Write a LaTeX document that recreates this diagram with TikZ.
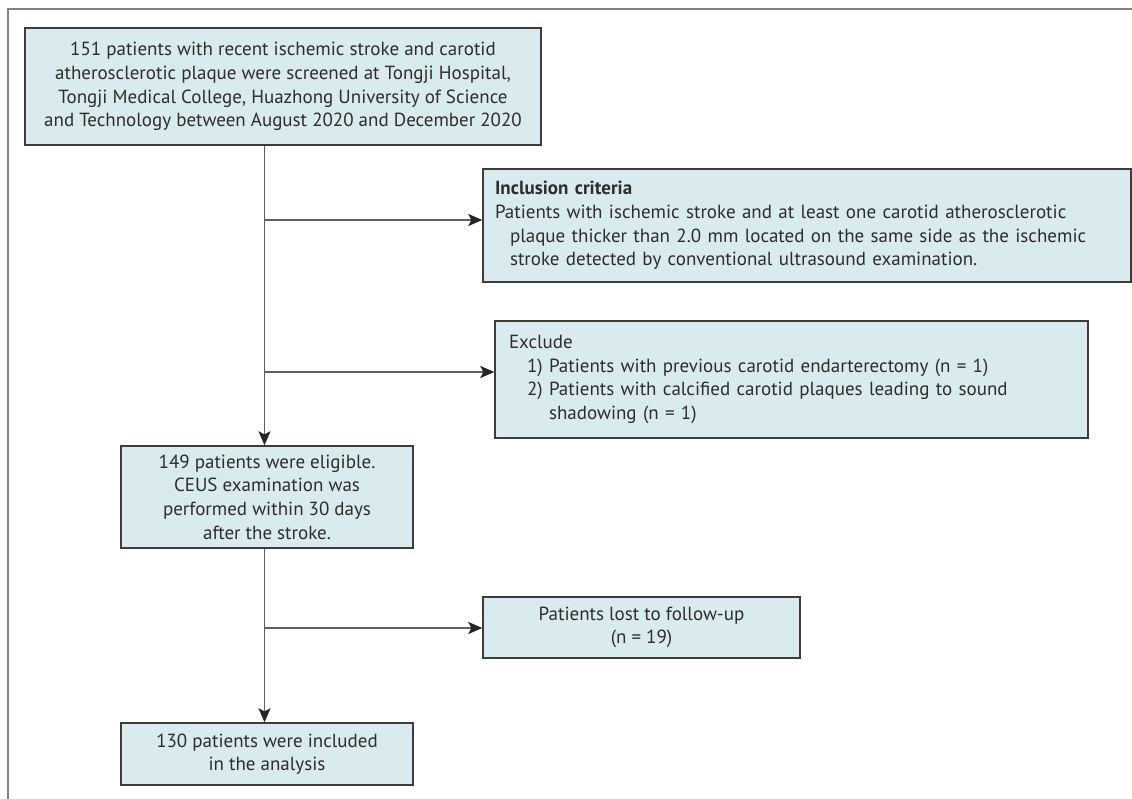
\documentclass[tikz,border=0pt]{standalone}
\usepackage{fontspec}
\setmainfont{PT Sans}
\usetikzlibrary{arrows.meta}
\definecolor{boxfill}{RGB}{217,235,237}
\definecolor{boxline}{RGB}{60,60,60}
\definecolor{txt}{RGB}{45,45,45}
\definecolor{conn}{RGB}{95,95,95}
\definecolor{frame}{RGB}{130,130,130}
\begin{document}
\begin{tikzpicture}[x=1pt,y=-1pt,
  fbox/.style={draw=boxline, line width=1.4pt, fill=boxfill, text=txt, inner sep=0pt,
    font=\fontsize{19}{23.6}\selectfont, align=center},
  lbox/.style={fbox, align=left},
  conline/.style={draw=conn, line width=1.6pt},
  arr/.style={conline, -{Stealth[length=14pt,width=12pt,inset=3pt,fill=black!85,color=black!85]}}]
\useasboundingbox (0,0) rectangle (1132,799);
\fill[white] (0,0) rectangle (1132,799);
% frame
\coordinate (ftl) at (8,9);
\coordinate (ftr) at (1132,9);
\coordinate (fbl) at (8,799);
\draw[frame, line width=2pt] (ftr) -- (ftl) -- (fbl);
% boxes
\node[fbox, minimum width=516pt, minimum height=117pt] (b151) at (283,86.5)
  {151 patients with recent ischemic stroke and carotid\\
   atherosclerotic plaque were screened at Tongji Hospital,\\
   Tongji Medical College, Huazhong University of Science\\
   and Technology between August 2020 and December 2020};
\node[lbox, text width=624pt, inner xsep=12pt, minimum height=113pt] (incl) at (807,225.5)
  {\textbf{Inclusion criteria}\\
   Patients with ischemic stroke and at least one carotid atherosclerotic\\
   \hspace*{15pt}plaque thicker than 2.0 mm located on the same side as the ischemic\\
   \hspace*{15pt}stroke detected by conventional ultrasound examination.};
\node[lbox, text width=565pt, inner xsep=14pt, minimum height=117pt] (excl) at (791.5,379.5)
  {Exclude\\
   \hspace*{18pt}1) Patients with previous carotid endarterectomy (n = 1)\\
   \hspace*{18pt}2) Patients with calcified carotid plaques leading to sound\\
   \hspace*{18pt}\phantom{2) }shadowing (n = 1)};
\node[fbox, minimum width=292pt, minimum height=102pt] (b149) at (267,497)
  {149 patients were eligible.\\
   CEUS examination was\\
   performed within 30 days\\
   after the stroke.};
\node[fbox, minimum width=317pt, minimum height=61pt] (lost) at (641.5,627.5)
  {Patients lost to follow-up\\
   (n = 19)};
\node[fbox, minimum width=292pt, minimum height=62pt] (b130) at (267,754)
  {130 patients were included\\
   in the analysis};
% connectors
\coordinate (mx) at (264.5,0);
\coordinate (j1) at (264.5,220);
\coordinate (j2) at (264.5,372);
\coordinate (j3) at (264.5,628);
\draw[arr] (b151.south -| mx) -- (b149.north -| mx);
\draw[arr] (j1) -- (j1 -| incl.west);
\draw[arr] (j2) -- (j2 -| excl.west);
\draw[arr] (b149.south -| mx) -- (b130.north -| mx);
\draw[arr] (j3) -- (j3 -| lost.west);
\end{tikzpicture}
\end{document}
